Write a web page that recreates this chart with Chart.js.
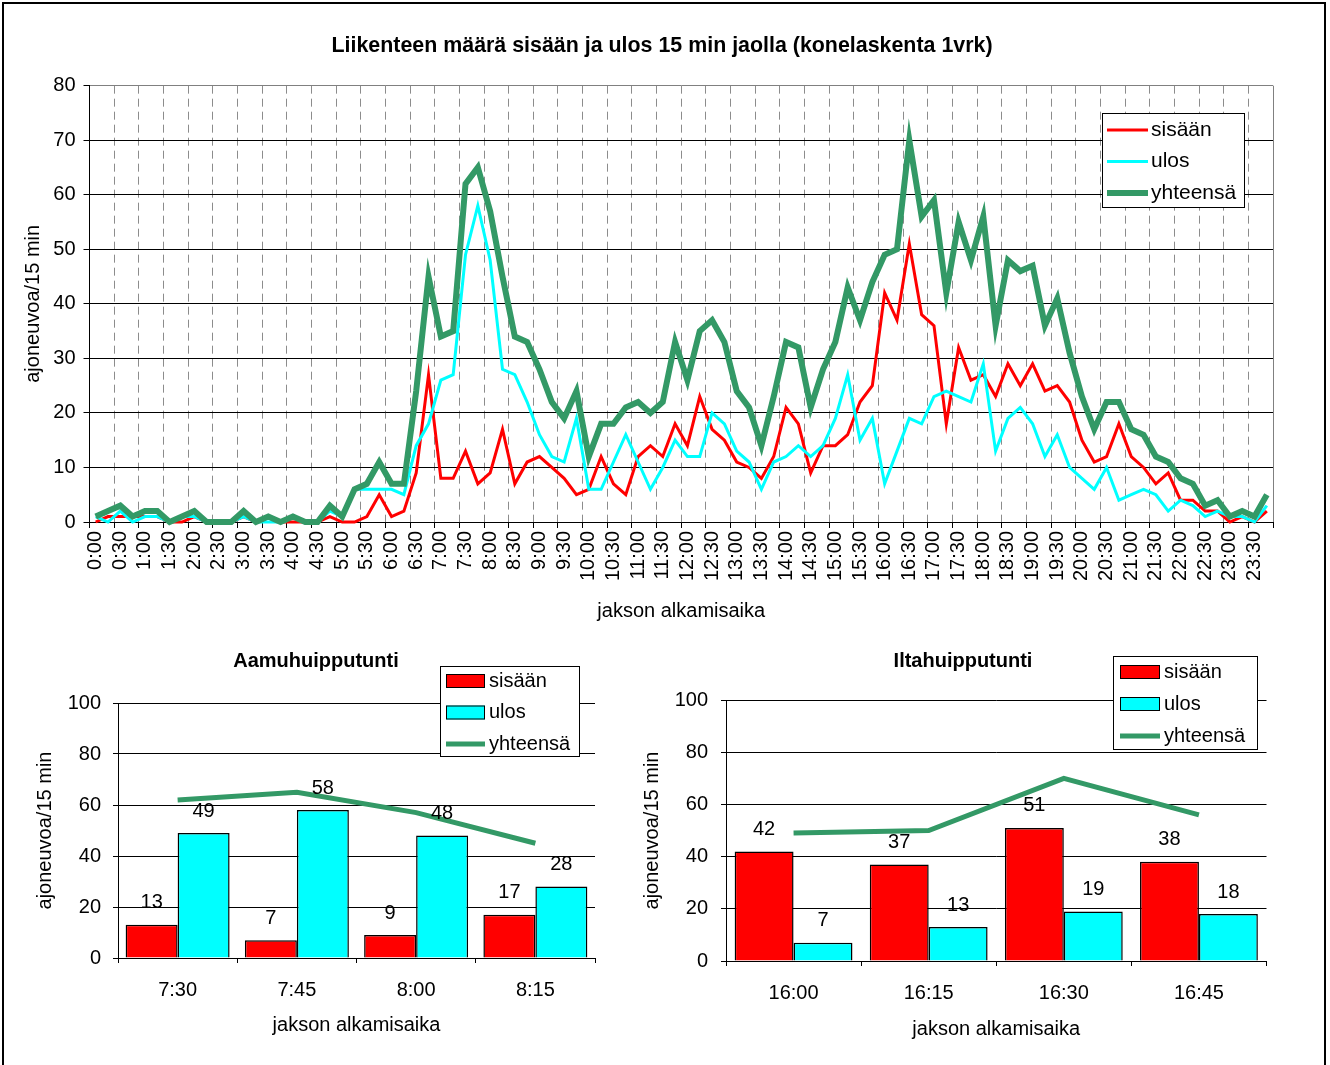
<!DOCTYPE html>
<html lang="fi">
<head>
<meta charset="UTF-8">
<title>Liikenteen määrä sisään ja ulos 15 min jaolla</title>
<script src="https://cdn.jsdelivr.net/npm/chart.js@4.4.0/dist/chart.umd.min.js"></script>
<style>
    html, body {
        margin: 0;
        padding: 0;
        background: #fff;
        overflow: hidden;
    }
    #page {
        position: relative;
        width: 1330px;
        height: 1065px;
    }
    #frame {
        position: absolute;
        left: 2px;
        top: 2px;
        width: 1324px;
        height: 1100px;
        border: 2px solid #000;
        box-sizing: border-box;
    }
    canvas { position: absolute; }
    #main { left: 0; top: 0; }
    #aamu { left: 20px; top: 640px; }
    #ilta { left: 640px; top: 640px; }
</style>
</head>
<body>
<div id="page">
    <div id="frame"></div>
    <canvas id="main" width="1324" height="640"></canvas>
    <canvas id="aamu" width="592" height="420"></canvas>
    <canvas id="ilta" width="646" height="420"></canvas>
</div>

<script>
// vuorokauden 15 min jaksot 0:00 ... 23:45
const jaksot = [];
for (let h = 0; h < 24; h++) {
    for (const m of ['00', '15', '30', '45']) jaksot.push(h + ':' + m);
}

const sisaan = [
    0, 1, 1, 1, 1, 1, 0, 0, 1, 0, 0, 0, 1, 0, 1, 0, 0, 0, 0, 1, 0, 0, 1, 5,
    1, 2, 9, 27, 8, 8, 13, 7, 9, 17, 7, 11, 12, 10, 8, 5, 6, 12, 7, 5, 12, 14, 12, 18,
    14, 23, 17, 15, 11, 10, 8, 12, 21, 18, 9, 14, 14, 16, 22, 25, 42, 37, 51, 38, 36, 18, 32, 26,
    27, 23, 29, 25, 29, 24, 25, 22, 15, 11, 12, 18, 12, 10, 7, 9, 4, 4, 2, 2, 0, 1, 0, 2
];
const ulos = [
    1, 0, 2, 0, 1, 1, 0, 1, 1, 0, 0, 0, 1, 0, 0, 0, 1, 0, 0, 2, 1, 6, 6, 6,
    6, 5, 14, 18, 26, 27, 49, 58, 48, 28, 27, 22, 16, 12, 11, 19, 6, 6, 11, 16, 11, 6, 10, 15,
    12, 12, 20, 18, 13, 11, 6, 11, 12, 14, 12, 14, 19, 27, 15, 19, 7, 13, 19, 18, 23, 24, 23, 22,
    29, 13, 19, 21, 18, 12, 16, 10, 8, 6, 10, 4, 5, 6, 5, 2, 4, 3, 1, 2, 1, 1, 0, 3
];
const yhteensa = [
    1, 2, 3, 1, 2, 2, 0, 1, 2, 0, 0, 0, 2, 0, 1, 0, 1, 0, 0, 3, 1, 6, 7, 11,
    7, 7, 24, 45, 34, 35, 62, 65, 57, 45, 34, 33, 28, 22, 19, 24, 12, 18, 18, 21, 22, 20, 22, 33,
    26, 35, 37, 33, 24, 21, 14, 23, 33, 32, 21, 28, 33, 43, 37, 44, 49, 50, 70, 56, 59, 42, 55, 48,
    56, 36, 48, 46, 47, 36, 41, 31, 23, 17, 22, 22, 17, 16, 12, 11, 8, 7, 3, 4, 1, 2, 1, 5
];

// huipputunnit
const aamuJaksot = ['7:30', '7:45', '8:00', '8:15'];
const aamuSisaan = [13, 7, 9, 17];
const aamuUlos = [49, 58, 48, 28];
const aamuYht = [62, 65, 57, 45];

const iltaJaksot = ['16:00', '16:15', '16:30', '16:45'];
const iltaSisaan = [42, 37, 51, 38];
const iltaUlos = [7, 13, 19, 18];
const iltaYht = [49, 50, 70, 56];

const FONT = "'Liberation Sans', Arial, sans-serif";
Chart.defaults.font.family = FONT;
Chart.defaults.font.size = 20;
Chart.defaults.color = '#000';
Chart.defaults.animation = false;

const PUNAINEN = '#ff0000';
const SYAANI = '#00ffff';
const VIHREA = '#339966';

// selite laatikossa, piirretään kaavion päälle
const boxLegend = {
    id: 'boxLegend',
    afterDraw(chart, args, o) {
        const ctx = chart.ctx;
        ctx.save();
        ctx.fillStyle = '#fff';
        ctx.fillRect(o.x, o.y, o.w, o.h);
        ctx.lineWidth = 1;
        ctx.strokeStyle = '#000';
        ctx.strokeRect(o.x + 0.5, o.y + 0.5, o.w - 1, o.h - 1);
        ctx.font = o.font;
        ctx.textBaseline = 'middle';
        ctx.textAlign = 'left';
        chart.data.datasets.forEach((ds, i) => {
            const cy = o.y + o.first + i * o.gap;
            const sx = o.x + o.inset;
            if (ds.type === 'line' || chart.config.type === 'line') {
                ctx.strokeStyle = ds.borderColor;
                ctx.lineWidth = ds.borderWidth;
                ctx.beginPath();
                ctx.moveTo(sx, cy);
                ctx.lineTo(sx + o.sample, cy);
                ctx.stroke();
            } else {
                ctx.fillStyle = ds.backgroundColor;
                ctx.fillRect(sx, cy - 7, o.sample, 14);
                ctx.strokeStyle = '#000';
                ctx.lineWidth = 1;
                ctx.strokeRect(sx + 0.5, cy - 6.5, o.sample - 1, 13);
            }
            ctx.fillStyle = '#000';
            ctx.fillText(ds.label, sx + o.sample + o.textGap, cy);
        });
        ctx.restore();
    }
};

// arvot pylväiden yläpuolelle
const barValues = {
    id: 'barValues',
    afterDatasetsDraw(chart) {
        const ctx = chart.ctx;
        ctx.save();
        ctx.font = '20px ' + FONT;
        ctx.fillStyle = '#000';
        ctx.textAlign = 'center';
        ctx.textBaseline = 'middle';
        chart.data.datasets.forEach((ds, i) => {
            if (ds.type === 'line') return;
            chart.getDatasetMeta(i).data.forEach((bar, j) => {
                ctx.fillText(ds.data[j], bar.x, bar.y - 22);
            });
        });
        ctx.restore();
    }
};

// --- koko vuorokausi ---
new Chart(document.getElementById('main'), {
    type: 'line',
    data: {
        labels: jaksot,
        datasets: [
            { label: 'sisään', data: sisaan, borderColor: PUNAINEN, borderWidth: 3, order: 2, clip: 6 },
            { label: 'ulos', data: ulos, borderColor: SYAANI, borderWidth: 3, order: 1, clip: 6 },
            { label: 'yhteensä', data: yhteensa, borderColor: VIHREA, borderWidth: 6, order: 0, clip: 6 }
        ]
    },
    options: {
        responsive: false,
        animation: false,
        layout: { padding: { left: 51, right: 51, top: 0, bottom: 0 } },
        elements: { point: { radius: 0 }, line: { tension: 0 } },
        plugins: {
            legend: { display: false },
            tooltip: { enabled: false },
            title: {
                display: true,
                text: 'Liikenteen määrä sisään ja ulos 15 min jaolla (konelaskenta 1vrk)',
                font: { size: 21.4, weight: 'bold' },
                padding: { top: 33, bottom: 27 }
            },
            boxLegend: { x: 1102, y: 113, w: 143, h: 95, first: 17, gap: 31.5, inset: 5, sample: 41, textGap: 3, font: '21px ' + FONT }
        },
        scales: {
            x: {
                offset: true,
                grid: {
                    offset: true,
                    tickLength: 6,
                    color: c => c.index === undefined ? '#808080' : (c.index > 0 && c.index % 2 === 0 ? '#8c8c8c' : 'rgba(0,0,0,0)'),
                    tickColor: c => (c.index === undefined || c.index % 2 === 0) ? '#000' : 'rgba(0,0,0,0)'
                },
                border: { color: '#000', dash: c => c.index === undefined ? [] : [8, 5] },
                ticks: {
                    autoSkip: false,
                    maxRotation: 90,
                    minRotation: 90,
                    padding: 3,
                    callback: (v, i) => i % 2 ? '' : jaksot[i]
                },
                title: { display: true, text: 'jakson alkamisaika', padding: { top: 0, bottom: 17 } },
                afterFit: s => { s.height = 118; }
            },
            y: {
                min: 0,
                max: 80,
                ticks: { stepSize: 10, padding: 8 },
                grid: { color: c => c.tick && c.tick.value === 80 ? '#808080' : '#000', tickLength: 6, tickColor: '#000' },
                border: { color: '#000' },
                title: { display: true, text: 'ajoneuvoa/15 min', padding: { top: -30, bottom: 0 } },
                afterFit: s => { s.width = 38.5; }
            }
        }
    },
    plugins: [boxLegend]
});

// --- huipputuntien pylväskaaviot ---
function huippuKaavio(id, otsikko, labels, sis, ul, yht, o) {
    new Chart(document.getElementById(id), {
        type: 'bar',
        data: {
            labels: labels,
            datasets: [
                { label: 'sisään', data: sis, backgroundColor: PUNAINEN, borderColor: '#000', borderWidth: 1.5,
                  categoryPercentage: o.catPct, barPercentage: 1, order: 1 },
                { label: 'ulos', data: ul, backgroundColor: SYAANI, borderColor: '#000', borderWidth: 1.5,
                  categoryPercentage: o.catPct, barPercentage: 1, order: 2 },
                { type: 'line', label: 'yhteensä', data: yht, borderColor: VIHREA, borderWidth: 5,
                  pointRadius: 0, tension: 0, order: 0 }
            ]
        },
        options: {
            responsive: false,
            animation: false,
            layout: { padding: { left: o.padL, right: o.padR, top: 0, bottom: 0 } },
            plugins: {
                legend: { display: false },
                tooltip: { enabled: false },
                title: {
                    display: true,
                    text: otsikko,
                    font: { size: 20, weight: 'bold' },
                    padding: { top: 9, bottom: o.titleBottom }
                },
                boxLegend: o.legend
            },
            scales: {
                x: {
                    grid: { drawOnChartArea: false, tickLength: 5, tickColor: '#000' },
                    border: { color: '#000' },
                    ticks: { padding: 15 },
                    title: { display: true, text: 'jakson alkamisaika', padding: { top: 0, bottom: o.xTitleBottom } },
                    afterFit: s => { s.height = o.xHeight; }
                },
                y: {
                    min: 0,
                    max: 100,
                    ticks: { stepSize: 20, padding: o.yTickPad },
                    grid: { color: '#000', tickLength: 5, tickColor: '#000' },
                    border: { color: '#000' },
                    title: { display: true, text: 'ajoneuvoa/15 min', padding: { top: o.yTitlePad, bottom: 0 } },
                    afterFit: s => { s.width = o.yWidth; }
                }
            }
        },
        plugins: [barValues, boxLegend]
    });
}

huippuKaavio('aamu', 'Aamuhuipputunti', aamuJaksot, aamuSisaan, aamuUlos, aamuYht, {
    catPct: 0.872, padL: 17, padR: 17, titleBottom: 30, xHeight: 102, xTitleBottom: 23,
    yWidth: 81, yTickPad: 12, yTitlePad: -4,
    legend: { x: 420, y: 26, w: 140, h: 91, first: 15, gap: 31.5, inset: 6, sample: 39, textGap: 4, font: '20px ' + FONT }
});

huippuKaavio('ilta', 'Iltahuipputunti', iltaJaksot, iltaSisaan, iltaUlos, iltaYht, {
    catPct: 0.872, padL: 19.5, padR: 19.5, titleBottom: 27, xHeight: 99, xTitleBottom: 19,
    yWidth: 66.5, yTickPad: 13, yTitlePad: -19.5,
    legend: { x: 473, y: 16, w: 145, h: 94, first: 16, gap: 32, inset: 7, sample: 40, textGap: 4, font: '20px ' + FONT }
});
</script>
</body>
</html>
